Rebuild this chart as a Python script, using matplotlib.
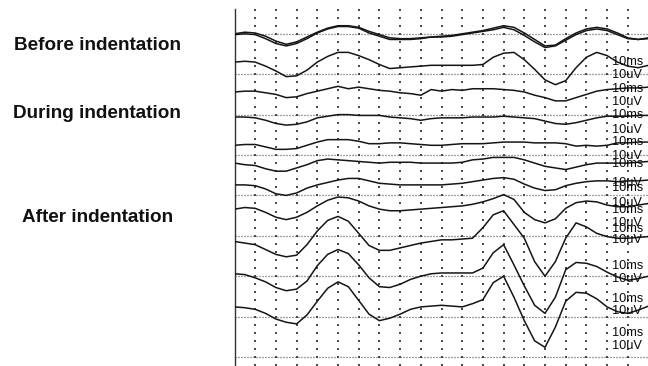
import numpy as np
import matplotlib
matplotlib.use('Agg')
import matplotlib.pyplot as plt

plt.rcParams['font.family'] = ['Liberation Sans', 'DejaVu Sans']

# sweep time base (ms), one sample every half column
t_ms = np.linspace(0, 100, 41)

# traces, in grid divisions above the bottom line
sweep_01a = [39.9, 40.0, 39.9, 39.4, 38.8, 38.5, 38.8, 39.4, 40.1, 40.6, 40.9, 40.9, 40.7, 40.1,
             39.7, 39.3, 39.3, 39.3, 39.4, 39.6, 39.6, 39.7, 39.9, 40.1, 40.3, 40.5, 40.8, 40.5,
             39.8, 39.0, 38.3, 38.5, 39.2, 39.9, 40.4, 40.6, 40.4, 39.9, 39.4, 39.3, 39.5]
sweep_01b = [40.0, 40.2, 40.1, 39.7, 39.1, 38.7, 39.0, 39.6, 40.2, 40.7, 41.0, 41.0, 40.8, 40.3,
             39.9, 39.5, 39.4, 39.4, 39.5, 39.6, 39.7, 39.8, 40.0, 40.2, 40.4, 40.7, 41.0, 40.8,
             40.1, 39.3, 38.5, 38.6, 39.4, 40.1, 40.6, 40.8, 40.6, 40.1, 39.5, 39.3, 39.4]
sweep_02 = [36.5, 36.6, 36.5, 36.0, 35.4, 34.7, 34.8, 35.5, 36.5, 37.2, 37.7, 37.7, 37.3, 36.8,
            36.2, 35.7, 35.8, 35.9, 36.0, 36.1, 36.1, 36.1, 36.1, 36.1, 36.2, 37.1, 37.6, 37.7,
            36.8, 35.6, 34.3, 33.7, 34.2, 35.8, 37.1, 37.7, 37.3, 36.5, 36.0, 35.8, 36.1]
sweep_03 = [32.8, 32.9, 32.9, 32.7, 32.5, 32.1, 32.2, 32.6, 32.9, 33.2, 33.5, 33.2, 33.4, 33.2,
            33.0, 32.9, 32.7, 32.6, 32.4, 33.1, 32.9, 33.1, 33.0, 33.2, 33.2, 33.2, 33.1, 33.0,
            32.8, 32.4, 32.1, 31.7, 31.7, 32.1, 32.5, 32.9, 33.1, 33.2, 33.3, 33.3, 33.4]
sweep_04 = [29.7, 29.7, 29.6, 29.3, 28.9, 28.7, 28.8, 29.1, 29.6, 29.8, 30.0, 30.0, 29.9, 29.9,
            29.9, 29.7, 29.6, 29.5, 29.3, 29.5, 29.6, 29.6, 29.6, 29.7, 29.7, 29.7, 29.8, 29.7,
            29.6, 29.5, 29.2, 28.9, 28.8, 29.0, 29.3, 29.6, 29.8, 29.8, 29.8, 29.9, 29.9]
sweep_05 = [26.2, 26.3, 26.3, 26.0, 25.7, 25.7, 25.8, 26.2, 26.6, 26.9, 26.9, 26.9, 26.7, 26.4,
            26.4, 26.5, 26.5, 26.4, 26.3, 26.2, 26.2, 26.3, 26.4, 26.4, 26.4, 26.5, 26.6, 26.6,
            26.6, 26.5, 26.5, 26.5, 26.4, 26.1, 26.2, 26.1, 26.2, 26.5, 26.5, 26.6, 26.6]
sweep_06 = [24.0, 23.8, 23.7, 23.3, 23.0, 23.0, 23.4, 23.8, 24.3, 24.5, 24.4, 24.3, 24.2, 24.1,
            24.0, 24.1, 24.1, 24.1, 24.0, 24.0, 24.0, 24.0, 24.1, 24.4, 24.5, 24.7, 24.7, 24.7,
            24.4, 24.0, 23.6, 23.4, 23.2, 23.5, 23.8, 24.0, 24.0, 24.0, 24.0, 24.1, 24.2]
sweep_07 = [21.3, 21.3, 21.2, 20.8, 20.2, 20.0, 20.3, 20.9, 21.3, 21.6, 21.9, 22.1, 22.1, 21.8,
            21.5, 21.4, 21.3, 21.3, 21.3, 21.3, 21.3, 21.4, 21.5, 21.7, 21.9, 22.1, 22.2, 22.0,
            21.4, 20.9, 20.6, 20.7, 21.2, 21.5, 21.7, 21.8, 21.8, 21.7, 21.8, 21.8, 21.9]
sweep_08 = [18.3, 18.5, 18.4, 17.9, 17.3, 17.0, 17.3, 17.9, 18.7, 19.4, 19.8, 19.7, 19.3, 18.7,
            18.3, 18.1, 18.1, 18.2, 18.3, 18.4, 18.5, 18.6, 18.7, 18.9, 19.2, 19.6, 20.1, 19.5,
            17.9, 17.0, 16.6, 17.1, 18.4, 19.1, 19.3, 19.2, 18.8, 18.6, 18.6, 18.8, 19.0]
sweep_09 = [14.3, 14.1, 13.9, 13.3, 12.7, 12.4, 12.6, 13.9, 15.6, 16.9, 17.4, 16.8, 15.3, 13.8,
            13.2, 13.2, 13.5, 13.8, 14.1, 14.3, 14.5, 14.5, 14.6, 14.7, 16.0, 17.6, 18.1, 16.4,
            14.7, 11.8, 10.0, 11.8, 14.7, 16.6, 16.1, 15.3, 14.9, 14.7, 14.7, 14.8, 14.9]
sweep_10 = [10.3, 10.2, 9.8, 9.3, 8.6, 8.2, 8.4, 9.4, 11.3, 12.7, 13.3, 12.8, 11.4, 9.8,
            8.7, 8.6, 9.0, 9.6, 10.0, 10.3, 10.4, 10.4, 10.4, 10.4, 11.0, 12.9, 13.9, 11.4,
            8.8, 6.4, 5.4, 7.4, 10.8, 11.7, 11.6, 11.2, 10.5, 9.9, 9.5, 9.7, 10.0]
sweep_11 = [6.2, 6.1, 5.9, 5.4, 4.7, 4.3, 4.1, 5.2, 6.9, 8.5, 9.3, 8.7, 7.0, 5.3,
            4.5, 4.8, 5.3, 5.9, 6.2, 6.3, 6.4, 6.3, 6.2, 6.6, 7.1, 9.2, 10.0, 7.4,
            4.5, 2.0, 1.2, 3.7, 6.9, 8.0, 7.9, 7.2, 6.2, 5.6, 5.4, 5.8, 6.3]

sweeps = [sweep_01a, sweep_01b, sweep_02, sweep_03, sweep_04, sweep_05, sweep_06,
          sweep_07, sweep_08, sweep_09, sweep_10, sweep_11]

# calibration labels on the right (they overlap in the original too)
cal_ms_y = [36.5, 33.2, 29.95, 26.6, 23.9, 20.9, 18.2, 15.8, 11.3, 7.2, 3.0]
cal_uv_y = [34.9, 31.6, 28.1, 24.9, 21.5, 19.1, 16.6, 14.5, 9.65, 5.7, 1.4]

groups = ['Before indentation', 'During indentation', 'After indentation']
group_pos = [(14, 45), (13, 114), (22, 217)]

W, H = 648, 366
fig = plt.figure(figsize=(W / 100, H / 100), dpi=100)
x0 = 234.5
ax = fig.add_axes([x0 / W, 0, 1 - x0 / W, 1])
ax.set_xlim(0, (W - x0) / 4.14)
ax.set_ylim(-9 / 8.08, 357 / 8.08)

# dotted chart paper
cols = np.arange(5, 100, 5)
rows = np.arange(-1, 44)
gx, gy = np.meshgrid(cols, rows)
ax.scatter(gx.ravel(), gy.ravel(), s=1.5, marker='s', color='#4a4a4a', linewidths=0, zorder=1)
for yy in range(0, 45, 5):
    ax.axhline(yy, color='#444444', lw=0.9, linestyle=(0, (0.8, 1.6)), zorder=1)

for s in sweeps:
    ax.plot(t_ms, s, color='#151515', lw=1.1, zorder=3, solid_joinstyle='round')

for y in cal_ms_y:
    ax.text(91.2, y, '10ms', fontsize=9.2, ha='left', va='center', color='#0a0a0a', zorder=4)
for y in cal_uv_y:
    ax.text(91.2, y, '10uV', fontsize=9.2, ha='left', va='center', color='#0a0a0a', zorder=4)

for sp in ['top', 'right', 'bottom']:
    ax.spines[sp].set_visible(False)
ax.spines['left'].set_bounds(-1.2, 43.1)
ax.spines['left'].set_color('#333333')
ax.spines['left'].set_linewidth(1.0)
ax.set_xticks([])
ax.set_yticks([])

for label, (px, py) in zip(groups, group_pos):
    fig.text(px / W, 1 - py / H, label, fontsize=13.6, fontweight='bold',
             ha='left', va='center', color='#111111')

fig.savefig('out.png', dpi=100)
